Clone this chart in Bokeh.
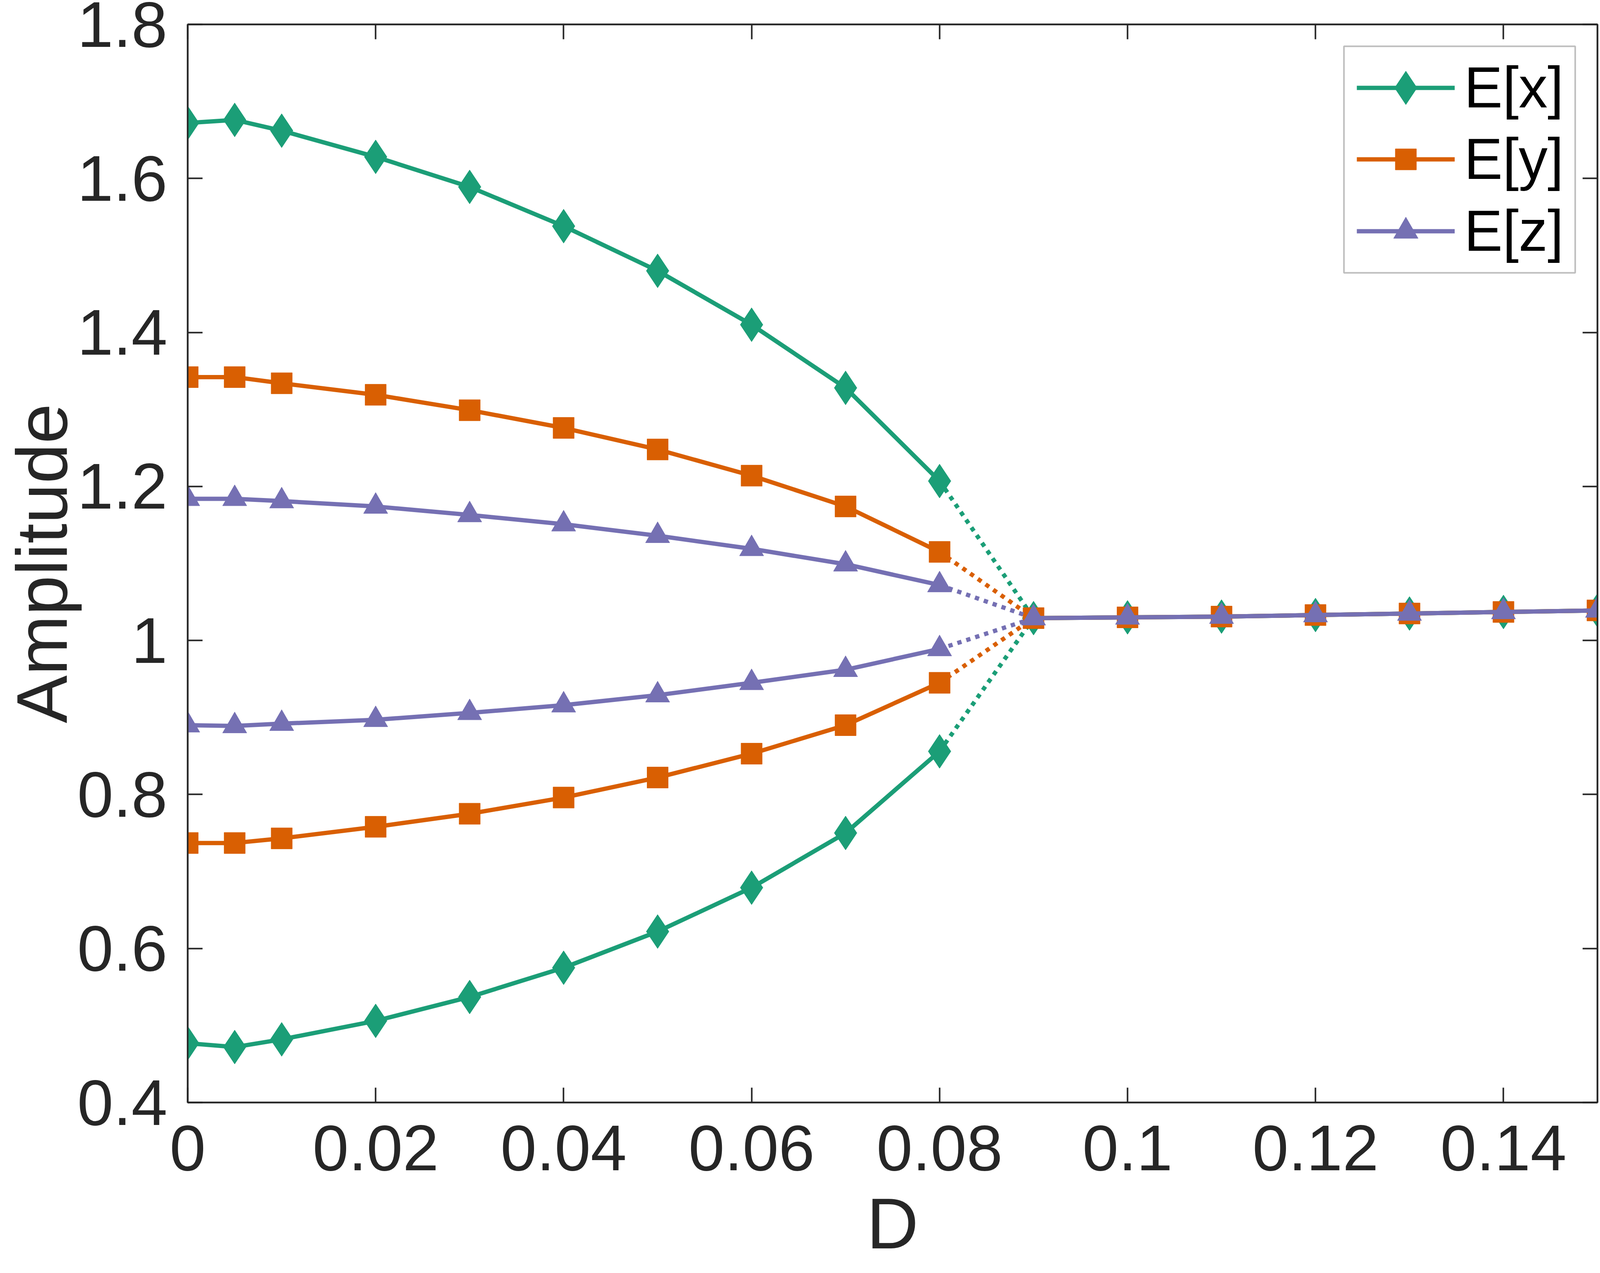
from bokeh.plotting import figure
from bokeh.models import (Range1d, FixedTicker, LinearAxis, Legend, LegendItem,
                          BoxAnnotation)
from bokeh.embed import file_html
from bokeh.resources import INLINE

# ---------------- data ----------------
x_low = [0.0, 0.005, 0.01, 0.02, 0.03, 0.04, 0.05, 0.06, 0.07, 0.08]
x_high = [0.09, 0.10, 0.11, 0.12, 0.13, 0.14, 0.15]

ex_upper = [1.672, 1.676, 1.662, 1.628, 1.589, 1.538, 1.480, 1.410, 1.328, 1.207]
ex_lower = [0.477, 0.472, 0.482, 0.506, 0.537, 0.575, 0.622, 0.679, 0.750, 0.856]
ey_upper = [1.342, 1.342, 1.334, 1.319, 1.299, 1.276, 1.248, 1.214, 1.174, 1.115]
ey_lower = [0.737, 0.737, 0.743, 0.758, 0.775, 0.796, 0.822, 0.853, 0.890, 0.945]
ez_upper = [1.184, 1.184, 1.181, 1.174, 1.163, 1.151, 1.136, 1.119, 1.099, 1.072]
ez_lower = [0.890, 0.889, 0.892, 0.897, 0.906, 0.916, 0.929, 0.945, 0.962, 0.989]
converged = [1.029, 1.030, 1.031, 1.033, 1.035, 1.037, 1.039]

series_names = ["E[x]", "E[y]", "E[z]"]
series_colors = ["#1b9e77", "#d95f02", "#7570b3"]
series_markers = ["diamond", "square", "triangle"]

x_ticks = [0.0, 0.02, 0.04, 0.06, 0.08, 0.10, 0.12, 0.14]
x_tick_labels = ["0", "0.02", "0.04", "0.06", "0.08", "0.1", "0.12", "0.14"]
y_ticks = [0.4, 0.6, 0.8, 1.0, 1.2, 1.4, 1.6, 1.8]
y_tick_labels = ["0.4", "0.6", "0.8", "1", "1.2", "1.4", "1.6", "1.8"]

x_title = "D"
y_title = "Amplitude"

# ---------------- styling ----------------
W, H = 4116, 3243
ML, MR, MT, MB = 472, 27, 62, 421
AX = "#262626"
FONT = "Liberation Sans"
TICK_FS = "166px"
LABEL_FS = "184px"
LW = 11
MSIZE = {"diamond": 87, "square": 54, "triangle": 62}

p = figure(width=W, height=H, output_backend="svg", toolbar_location=None,
           x_range=Range1d(0, 0.15), y_range=Range1d(0.4, 1.8),
           min_border_left=ML, min_border_right=MR,
           min_border_top=MT, min_border_bottom=MB,
           background_fill_color="white", border_fill_color="white")
p.xgrid.visible = False
p.ygrid.visible = False
p.outline_line_color = AX
p.outline_line_width = 4


def style_axis(ax, ticks, labels, standoff, show_labels=True):
    ax.ticker = FixedTicker(ticks=ticks, minor_ticks=[])
    ax.axis_line_color = AX
    ax.axis_line_width = 4
    ax.major_tick_line_color = AX
    ax.major_tick_line_width = 4
    ax.major_tick_in = 38
    ax.major_tick_out = 0
    ax.minor_tick_line_color = None
    ax.major_label_standoff = standoff
    if show_labels:
        ax.major_label_overrides = dict(zip(ticks, labels))
        ax.major_label_text_font = FONT
        ax.major_label_text_font_size = TICK_FS
        ax.major_label_text_color = AX
        ax.axis_label_text_font = FONT
        ax.axis_label_text_font_size = LABEL_FS
        ax.axis_label_text_font_style = "normal"
        ax.axis_label_text_color = AX
    else:
        ax.major_label_overrides = {t: "" for t in ticks}
        ax.major_label_text_font_size = "1px"


style_axis(p.xaxis[0], x_ticks, x_tick_labels, 59)
style_axis(p.yaxis[0], y_ticks, y_tick_labels, 52)
p.xaxis[0].axis_label = x_title
p.xaxis[0].axis_label_standoff = 30
p.yaxis[0].axis_label = y_title
p.yaxis[0].axis_label_standoff = -15

top_ax = LinearAxis()
right_ax = LinearAxis()
style_axis(top_ax, x_ticks, x_tick_labels, 0, show_labels=False)
style_axis(right_ax, y_ticks, y_tick_labels, 0, show_labels=False)
p.add_layout(top_ax, "above")
p.add_layout(right_ax, "right")

# ---------------- data glyphs ----------------
uppers = [ex_upper, ey_upper, ez_upper]
lowers = [ex_lower, ey_lower, ez_lower]
legend_refs = []
for name, up, lo, col, mk in zip(series_names, uppers, lowers,
                                 series_colors, series_markers):
    r_line = p.line(x_low, up, line_color=col, line_width=LW)
    p.line(x_low, lo, line_color=col, line_width=LW)
    p.line([x_low[-1], x_high[0]], [up[-1], converged[0]], line_color=col,
           line_width=LW, line_dash="11 13")
    p.line([x_low[-1], x_high[0]], [lo[-1], converged[0]], line_color=col,
           line_width=LW, line_dash="11 13")
    p.line(x_high, converged, line_color=col, line_width=LW)
    r_mk = p.scatter(x_low + x_low + x_high, up + lo + converged, marker=mk,
                     size=MSIZE[mk], fill_color=col, line_color=col, line_width=1)
    legend_refs.append((name, r_line, r_mk, mk))

# ---------------- legend ----------------
box = BoxAnnotation(left=2960, right=3552, bottom=2124, top=2704,
                    left_units="screen", right_units="screen",
                    top_units="screen", bottom_units="screen",
                    fill_alpha=0, fill_color=None,
                    line_color=AX, line_width=4)
p.add_layout(box)

row_centers = [2598, 2415, 2231]
glyph_h = {"diamond": 215, "square": 135, "triangle": 157}
for (name, r_line, r_mk, mk), cy in zip(legend_refs, row_centers):
    gh = glyph_h[mk]
    rowh = max(gh, 170)
    leg = Legend(items=[LegendItem(label=name, renderers=[r_line, r_mk])],
                 location=(2993, cy - rowh / 2),
                 padding=0, margin=0, spacing=0,
                 glyph_width=251, glyph_height=gh, label_standoff=24,
                 label_text_font=FONT, label_text_font_size="148px",
                 label_text_color="black",
                 border_line_alpha=0, background_fill_alpha=0)
    p.add_layout(leg, "center")

open("out.html", "w").write(file_html(p, INLINE))
